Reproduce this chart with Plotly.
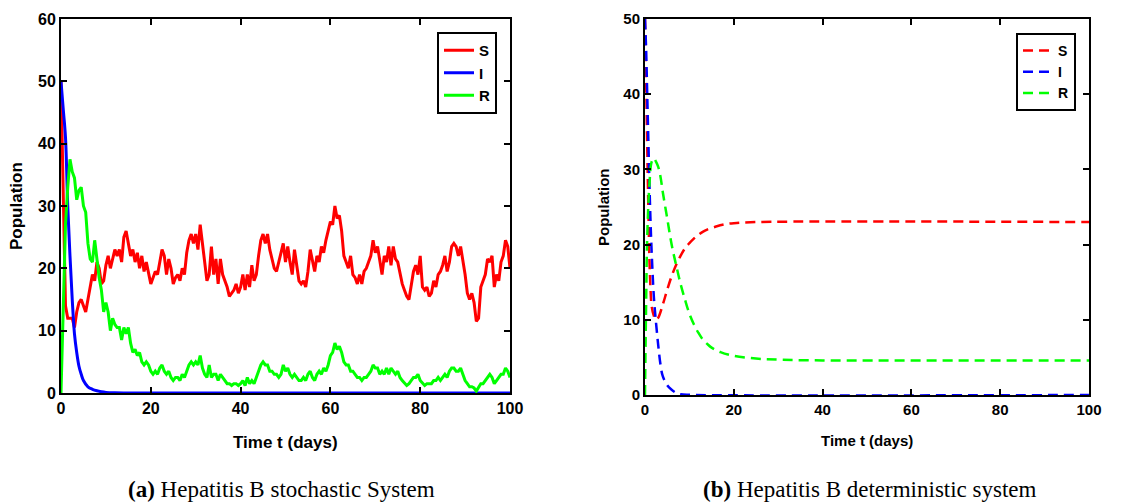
import numpy as np
import plotly.graph_objects as go

# ---- stochastic system (panel a), sampled every 0.5 day ----
t_stoch = np.arange(0, 100.5, 0.5)

S_stoch = [
    50, 30, 14, 12, 12, 12, 10.5, 13, 14.5, 15,
    14, 13, 15, 17, 19, 18, 21, 20, 17.5, 18,
    20.5, 22, 20, 21.5, 23, 22, 23, 21, 25, 26,
    24, 22, 23, 21, 22.5, 20, 22, 19.5, 21, 19,
    17.5, 18.5, 19.5, 19, 21, 23, 22, 19, 21.5, 20,
    17.5, 18.5, 19, 18, 20, 19, 22.5, 24.5, 25.5, 24,
    25.5, 23, 27, 24, 21, 18, 19, 23.5, 19, 21.5,
    17.5, 21.5, 19, 18, 17, 15.5, 16, 16.5, 17.5, 16,
    17, 19, 16.5, 19, 17, 20.5, 18, 19, 22, 24.5,
    25.5, 24, 25.5, 23, 21.5, 20, 19.5, 21, 22.5, 24,
    21, 23.5, 21, 19, 23, 20.5, 18, 17.5, 18, 17,
    19.5, 23, 21.5, 19.5, 22, 21, 23.5, 22.5, 24.5, 26,
    27.5, 27, 30, 28, 28.5, 26, 22, 21, 20, 22,
    19, 18.5, 17.5, 19, 17.5, 19.5, 20, 21, 22, 24.5,
    22.5, 23.5, 21, 19, 22, 21, 23.5, 20.5, 23.5, 21.5,
    21, 19, 17.5, 16.5, 15.5, 15, 17, 19.5, 20.5, 19,
    22, 17, 16.5, 17, 15.5, 16, 18, 17, 19, 19.5,
    20.5, 22, 19.5, 21, 23.5, 24, 23.5, 22, 23.5, 21.5,
    19, 16, 15, 16, 14.5, 11.5, 12, 17, 18, 19,
    21.5, 21, 22, 17, 19, 18, 21, 22, 24.5, 23.5,
    20,
]

R_stoch = [
    0, 15, 27, 33, 37.5, 35.5, 34.5, 31, 32.5, 33,
    30, 29, 24, 21.5, 21, 24.5, 21, 18.5, 16.5, 13,
    14.5, 13, 10, 12, 11, 10.5, 10.5, 8.5, 10.5, 9.5,
    10.5, 8, 6.5, 7, 6, 6.5, 5, 4.5, 5, 4.5,
    3.5, 3, 3.5, 3, 4, 4.5, 3.5, 3, 3.5, 2.5,
    2, 2.5, 2.5, 2, 3, 2.5, 3.5, 4.5, 5, 4.5,
    5, 4.5, 6, 4, 3, 2.5, 4.5, 2.5, 3, 3,
    2, 3, 2.5, 2, 1.5, 1.5, 1.2, 1.5, 1.5, 1.2,
    1.5, 2, 1.2, 2.5, 1.5, 2, 1.5, 2.5, 3.5, 4.5,
    5, 4.5, 4.5, 3.5, 3.5, 3, 3, 2.5, 3, 4.5,
    3.5, 4, 3, 2.5, 3, 2.5, 2, 2, 2.5, 2,
    3, 3.5, 2.5, 2, 3, 3.5, 3, 4, 3.5, 4.5,
    6, 6.5, 8, 7, 7.5, 6.5, 5, 4.5, 4.5, 3.5,
    3.5, 3, 2.5, 2.5, 2, 2.5, 2.5, 3, 3.5, 4.5,
    4, 4, 3, 3.5, 3, 4, 3, 4, 3.5, 3,
    3.5, 2.5, 2, 1.5, 1.2, 1.5, 2, 2.5, 2.5, 3,
    2, 1.5, 1.2, 1.5, 1.5, 1.5, 2, 2, 2.5, 2,
    2.5, 3, 2.5, 3.5, 4, 4, 3.5, 3.5, 4, 3,
    2, 1.5, 1, 1, 0.8, 0.3, 0.8, 1.5, 1.5, 2,
    2.5, 3, 2.5, 1.5, 2, 2.5, 3, 3, 4, 3.5,
    2.5,
]

t_I_stoch = [0, 0.5, 1, 1.5, 2, 2.5, 3, 3.5, 4, 4.5, 5, 6, 7, 8, 9, 10, 12, 15, 100]
I_stoch = [50, 45.5, 41, 30, 22, 15, 9.5, 6.5, 4.3, 3, 2, 1, 0.6, 0.35, 0.2, 0.1, 0.03, 0, 0]

# ---- deterministic system (panel b) ----
t_S_det = [0, 0.25, 0.5, 0.75, 1, 1.25, 1.5, 2, 2.5, 3, 4, 5, 6, 7, 8, 9, 10, 11, 12,
           13, 14, 16, 18, 20, 25, 100]
S_det = [50, 42, 33, 25, 18, 14, 11.8, 10.5, 10, 10.3, 12, 14, 15.8, 17.3, 18.5, 19.5,
         20.2, 20.8, 21.3, 21.7, 22, 22.4, 22.7, 22.85, 23, 23]

t_I_det = [0, 0.25, 0.5, 0.75, 1, 1.25, 1.5, 2, 2.5, 3, 3.5, 4, 5, 6, 7, 8, 10, 100]
I_det = [50, 46, 40, 34, 28, 23, 19, 13, 9.5, 6.5, 4, 2.5, 1.3, 0.7, 0.3, 0.1, 0.02, 0]

t_R_det = [0, 0.25, 0.5, 1, 1.5, 2, 2.5, 3, 3.5, 4, 5, 6, 7, 8, 9, 10, 11, 12, 13, 14,
           15, 17, 20, 25, 30, 40, 100]
R_det = [0, 12, 21, 28, 31, 31.5, 31, 30.3, 29, 27, 23.5, 20, 17.3, 14.8, 12.7, 10.8,
         9.4, 8.3, 7.4, 6.8, 6.3, 5.7, 5.2, 4.85, 4.7, 4.6, 4.6]

RED, BLUE, GREEN = "#ff0000", "#0000ff", "#00ff00"
SANS = "Liberation Sans"
SERIF = "Liberation Serif"

# the page puts the figure 8px in from the top-left corner, so size/positions
# are worked out from page pixels minus that offset
OFF = 8
W, H = 1145 - OFF, 503 - OFF


def px(x):
    return (x - OFF) / W


def py(y):
    return 1 - (y - OFF) / H


fig = go.Figure()

# panel (a)
fig.add_trace(go.Scatter(x=t_stoch, y=S_stoch, name="S", mode="lines",
                         line=dict(color=RED, width=3), legend="legend"))
fig.add_trace(go.Scatter(x=t_I_stoch, y=I_stoch, name="I", mode="lines",
                         line=dict(color=BLUE, width=3, shape="spline"), legend="legend"))
fig.add_trace(go.Scatter(x=t_stoch, y=R_stoch, name="R", mode="lines",
                         line=dict(color=GREEN, width=3), legend="legend"))

# panel (b)
dash = "10px,6px"
fig.add_trace(go.Scatter(x=t_S_det, y=S_det, name="S", mode="lines", xaxis="x2", yaxis="y2",
                         line=dict(color=RED, width=2.5, dash=dash, shape="spline"), legend="legend2"))
fig.add_trace(go.Scatter(x=t_I_det, y=I_det, name="I", mode="lines", xaxis="x2", yaxis="y2",
                         line=dict(color=BLUE, width=2.5, dash=dash, shape="spline"), legend="legend2"))
fig.add_trace(go.Scatter(x=t_R_det, y=R_det, name="R", mode="lines", xaxis="x2", yaxis="y2",
                         line=dict(color=GREEN, width=2.5, dash=dash, shape="spline"), legend="legend2"))


def axis_style(size):
    return dict(showline=True, linewidth=2, linecolor="black", mirror="ticks",
                ticks="inside", ticklen=6, tickwidth=2, tickcolor="black",
                showgrid=False, zeroline=False, automargin=False,
                tickfont=dict(family=SANS, size=size, color="black", weight="bold"))


legend_common = dict(bordercolor="black", borderwidth=2, bgcolor="white",
                     xanchor="right", yanchor="top", itemwidth=30,
                     tracegroupgap=0)

fig.update_layout(
    width=W, height=H,
    margin=dict(l=0, r=0, t=0, b=0, autoexpand=False),
    paper_bgcolor="white", plot_bgcolor="white",
    xaxis=dict(domain=[px(61), px(510)], range=[0, 100], tickvals=[0, 20, 40, 60, 80, 100],
               anchor="y", **axis_style(16)),
    yaxis=dict(domain=[py(393), py(19)], range=[0, 60], dtick=10,
               anchor="x", **axis_style(16)),
    xaxis2=dict(domain=[px(645), px(1089)], range=[0, 100], tickvals=[0, 20, 40, 60, 80, 100],
                anchor="y2", **axis_style(15)),
    yaxis2=dict(domain=[py(395), py(19)], range=[0, 50], dtick=10,
                anchor="x2", **axis_style(15)),
    legend=dict(x=px(497), y=py(32),
                font=dict(family=SANS, size=15, color="black", weight="bold"), **legend_common),
    legend2=dict(x=px(1076), y=py(33),
                 font=dict(family=SANS, size=14, color="black", weight="bold"), **legend_common),
)

annotations = [
    dict(text="Population", x=px(16), y=py(206), textangle=-90,
         font=dict(family=SANS, size=17, color="black", weight="bold")),
    dict(text="Population", x=px(604), y=py(207), textangle=-90,
         font=dict(family=SANS, size=15, color="black", weight="bold")),
    dict(text="Time t (days)", x=px(285.5), y=py(442),
         font=dict(family=SANS, size=17, color="black", weight="bold")),
    dict(text="Time t (days)", x=px(867), y=py(440),
         font=dict(family=SANS, size=15, color="black", weight="bold")),
    dict(text="<b>(a)</b> Hepatitis B stochastic System", x=px(281), y=py(489),
         font=dict(family=SERIF, size=23, color="black")),
    dict(text="<b>(b)</b> Hepatitis B deterministic system", x=px(870), y=py(489),
         font=dict(family=SERIF, size=23, color="black")),
]
for a in annotations:
    fig.add_annotation(xref="paper", yref="paper", showarrow=False,
                       xanchor="center", yanchor="middle", **a)

fig.write_html("out.html")
